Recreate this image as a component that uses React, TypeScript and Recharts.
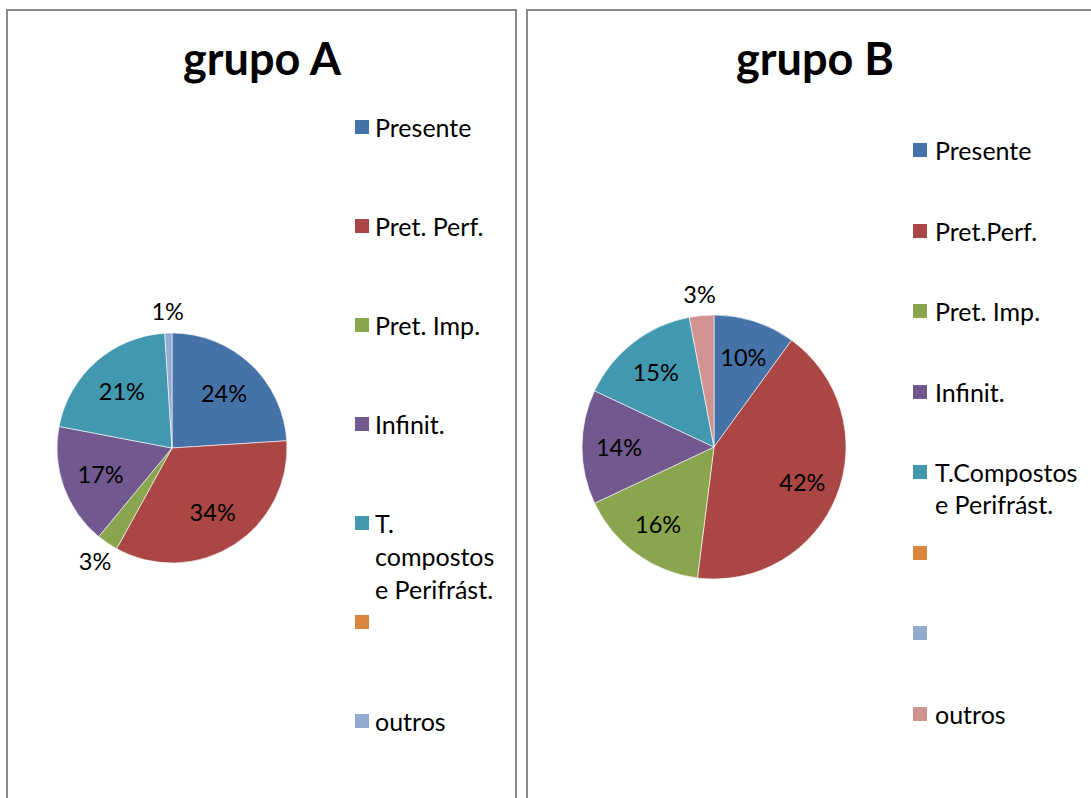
import React from 'react';
import { PieChart, Pie, Cell, Legend } from 'recharts';

const categoriesA = ['Presente', 'Pret. Perf.', 'Pret. Imp.', 'Infinit.', 'T. compostos e Perifrást.', '', 'outros'];
const valuesA = [24, 34, 3, 17, 21, 0, 1];
const colorsA = ['#4572A7', '#AA4643', '#89A54E', '#71588F', '#4198AF', '#DB843D', '#93A9CF'];

const categoriesB = ['Presente', 'Pret.Perf.', 'Pret. Imp.', 'Infinit.', 'T.Compostos e Perifrást.', '', '', 'outros'];
const valuesB = [10, 42, 16, 14, 15, 0, 0, 3];
const colorsB = ['#4572A7', '#AA4643', '#89A54E', '#71588F', '#4198AF', '#DB843D', '#93A9CF', '#D19392'];

const titleA = 'grupo A';
const titleB = 'grupo B';

const FONT = 'Lato, "Open Sans", sans-serif';

const makeLabel = (factor: number) => (props: any) => {
  const { cx, cy, midAngle, outerRadius, value, percent } = props;
  if (!value) return null;
  const pct = Math.round(percent * 100);
  const d = pct < 5 ? outerRadius + 22 : outerRadius * factor;
  const rad = Math.PI / 180;
  const x = cx + d * Math.cos(-midAngle * rad);
  const y = cy + d * Math.sin(-midAngle * rad);
  return (
    <text x={x} y={y} textAnchor="middle" dominantBaseline="central" fontFamily={FONT} fontSize={23.5} fill="#000">
      {pct}%
    </text>
  );
};

const LegendList = ({ names, colors, pitch, lineH, gap, textW }: any) => (
  <div style={{ position: 'relative', fontFamily: FONT, fontSize: 25, color: '#000' }}>
    {names.map((name: string, i: number) => (
      <div key={i} style={{ position: 'absolute', top: i * pitch, left: 0, display: 'flex', alignItems: 'flex-start' }}>
        <div style={{ width: 14, height: 14, background: colors[i], marginTop: (lineH - 14) / 2, marginRight: gap, flex: '0 0 auto' }} />
        <div style={{ width: textW, lineHeight: lineH + 'px', whiteSpace: 'normal' }}>{name}</div>
      </div>
    ))}
  </div>
);

const dataA = categoriesA.map((name, i) => ({ name, value: valuesA[i] }));
const dataB = categoriesB.map((name, i) => ({ name, value: valuesB[i] }));

export default function App() {
  return (
    <div style={{ position: 'absolute', left: 0, top: 0, width: 1091, height: 798, overflow: 'hidden', background: '#fff' }}>
      <div style={{ position: 'absolute', left: 6, top: 9, width: 511, height: 830, border: '2px solid #8a8a8a', boxSizing: 'border-box' }} />
      <div style={{ position: 'absolute', left: 526, top: 9, width: 600, height: 830, border: '2px solid #8a8a8a', boxSizing: 'border-box' }} />

      <div style={{ position: 'absolute', left: 62, width: 400, top: 36, textAlign: 'center', fontFamily: FONT, fontWeight: 700, fontSize: 45, lineHeight: '45px', color: '#000' }}>{titleA}</div>
      <div style={{ position: 'absolute', left: 615, width: 400, top: 36, textAlign: 'center', fontFamily: FONT, fontWeight: 700, fontSize: 45, lineHeight: '45px', color: '#000' }}>{titleB}</div>

      <div style={{ position: 'absolute', left: 0, top: 0 }}>
        <PieChart width={520} height={798} margin={{ top: 0, right: 0, bottom: 0, left: 0 }}>
          <Pie data={dataA} dataKey="value" nameKey="name" cx={172} cy={448} outerRadius={115} startAngle={90} endAngle={-270}
            isAnimationActive={false} labelLine={false} label={makeLabel(0.66)} stroke="#ffffff" strokeWidth={0.6}>
            {dataA.map((d, i) => <Cell key={i} fill={colorsA[i]} />)}
          </Pie>
          <Legend layout="vertical" align="right" verticalAlign="top"
            wrapperStyle={{ left: 355, top: 110.5, width: 160, height: 650, right: 'auto', bottom: 'auto' }}
            content={() => <LegendList names={categoriesA} colors={colorsA} pitch={99} lineH={33} gap={6} textW={128} />} />
        </PieChart>
      </div>

      <div style={{ position: 'absolute', left: 520, top: 0 }}>
        <PieChart width={571} height={798} margin={{ top: 0, right: 0, bottom: 0, left: 0 }}>
          <Pie data={dataB} dataKey="value" nameKey="name" cx={194} cy={447} outerRadius={132} startAngle={90} endAngle={-270}
            isAnimationActive={false} labelLine={false} label={makeLabel(0.72)} stroke="#ffffff" strokeWidth={0.6}>
            {dataB.map((d, i) => <Cell key={i} fill={colorsB[i]} />)}
          </Pie>
          <Legend layout="vertical" align="right" verticalAlign="top"
            wrapperStyle={{ left: 393, top: 134, width: 175, height: 650, right: 'auto', bottom: 'auto' }}
            content={() => <LegendList names={categoriesB} colors={colorsB} pitch={80.5} lineH={32} gap={8} textW={150} />} />
        </PieChart>
      </div>
    </div>
  );
}
